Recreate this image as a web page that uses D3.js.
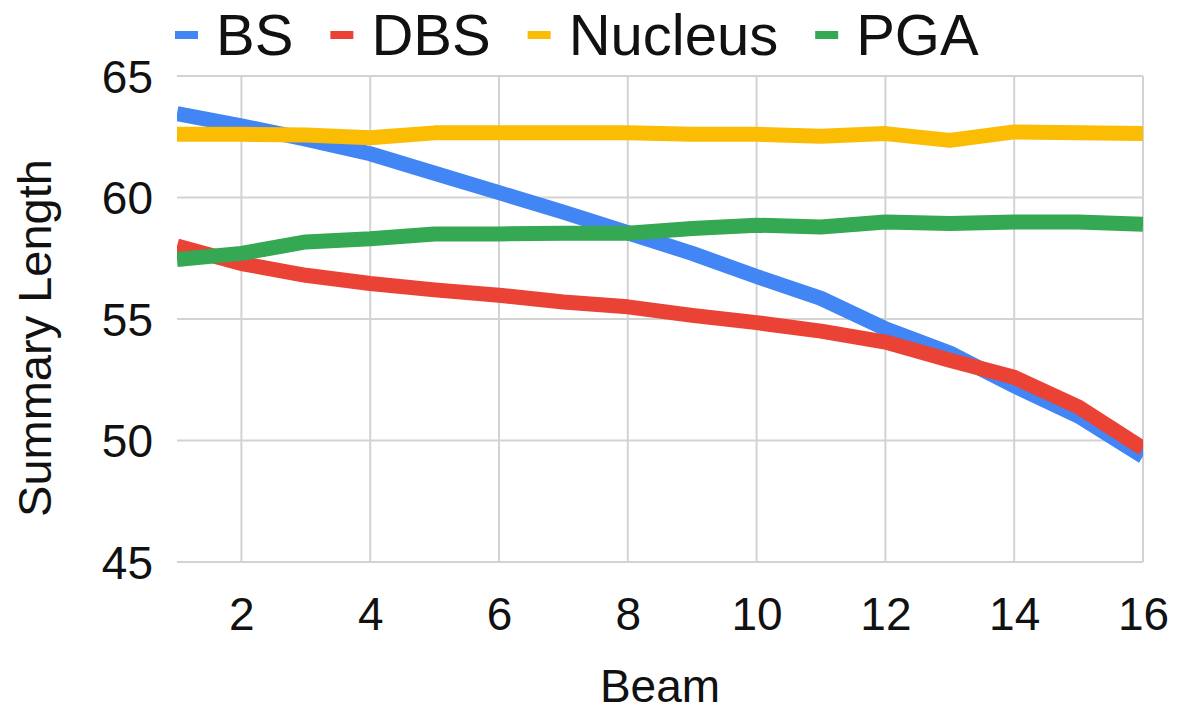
<!DOCTYPE html>
<html>
<head>
<meta charset="utf-8">
<script src="https://cdn.jsdelivr.net/npm/d3@7/dist/d3.min.js"></script>
<style>
  html, body { margin: 0; padding: 0; background: #fff; }
  svg { display: block; font-family: "Liberation Sans", Arial, Helvetica, sans-serif; }
</style>
</head>
<body>
<svg id="chart" width="1186" height="713"></svg>
<script>
const beams = [1,2,3,4,5,6,7,8,9,10,11,12,13,14,15,16];
const seriesNames = ["BS", "DBS", "Nucleus", "PGA"];
const bsValues      = [63.45, 62.95, 62.4, 61.8, 61.0, 60.2, 59.4, 58.55, 57.7, 56.75, 55.85, 54.6, 53.6, 52.25, 51.0, 49.35];
const dbsValues     = [58.0, 57.28, 56.8, 56.46, 56.2, 55.98, 55.7, 55.5, 55.15, 54.85, 54.5, 54.05, 53.3, 52.6, 51.38, 49.67];
const nucleusValues = [62.6, 62.6, 62.57, 62.46, 62.66, 62.66, 62.66, 62.66, 62.6, 62.6, 62.52, 62.63, 62.35, 62.7, 62.66, 62.63];
const pgaValues     = [57.45, 57.7, 58.17, 58.3, 58.5, 58.5, 58.53, 58.53, 58.72, 58.86, 58.79, 58.99, 58.93, 58.99, 58.99, 58.9];
const xTicks = [2,4,6,8,10,12,14,16];
const yTicks = [45,50,55,60,65];
const colors = ["#4285F4", "#EA4335", "#FBBC04", "#34A853"];

(function () {
const allSeries = [bsValues, dbsValues, nucleusValues, pgaValues];

const svg = d3.select("#chart");
const pLeft = 177, pRight = 1143, pTop = 76, pBottom = 562;

const x = d3.scaleLinear().domain([1, 16]).range([pLeft, pRight]);
const y = d3.scaleLinear().domain([45, 65]).range([pBottom, pTop]);

// Horizontal gridlines
svg.append("g").attr("class", "ygrid")
  .selectAll("line").data(yTicks).join("line")
  .attr("x1", pLeft).attr("x2", pRight)
  .attr("y1", d => y(d)).attr("y2", d => y(d))
  .attr("stroke", "#d3d3d3").attr("stroke-width", 2);

// Vertical gridlines
svg.append("g").attr("class", "xgrid")
  .selectAll("line").data(xTicks).join("line")
  .attr("x1", d => x(d)).attr("x2", d => x(d))
  .attr("y1", pTop).attr("y2", pBottom)
  .attr("stroke", "#d3d3d3").attr("stroke-width", 2);

// Y axis labels
const yAxis = d3.axisLeft(y).tickValues(yTicks).tickSize(0).tickPadding(0);
const yg = svg.append("g").attr("transform", `translate(${pLeft - 24},0)`).call(yAxis);
yg.select(".domain").remove();
yg.selectAll("text").attr("font-size", 46).attr("fill", "#111").attr("dy", "0.35em")
  .attr("font-family", '"Liberation Sans", Arial, sans-serif');

// X axis labels
const xAxis = d3.axisBottom(x).tickValues(xTicks).tickSize(0).tickPadding(0);
const xg = svg.append("g").attr("transform", `translate(0,${pBottom})`).call(xAxis);
xg.select(".domain").remove();
xg.selectAll("text").attr("font-size", 46).attr("fill", "#111").attr("dy", null).attr("y", 68)
  .attr("font-family", '"Liberation Sans", Arial, sans-serif');

// Clip
svg.append("clipPath").attr("id", "plotclip")
  .append("rect").attr("x", pLeft).attr("y", 0).attr("width", pRight - pLeft).attr("height", 713);

const line = d3.line().x((d, i) => x(beams[i])).y(d => y(d));

svg.append("g").attr("clip-path", "url(#plotclip)")
  .selectAll("path").data(allSeries).join("path")
  .attr("d", d => line(d))
  .attr("fill", "none")
  .attr("stroke", (d, i) => colors[i])
  .attr("stroke-width", 15)
  .attr("stroke-linejoin", "round")
  .attr("stroke-linecap", "butt");

// Axis titles
svg.append("text").attr("x", (pLeft + pRight) / 2).attr("y", 702)
  .attr("text-anchor", "middle").attr("font-size", 46).attr("fill", "#111")
  .text("Beam");
svg.append("text")
  .attr("transform", "translate(51,338) rotate(-90)")
  .attr("text-anchor", "middle").attr("font-size", 47).attr("fill", "#111")
  .text("Summary Length");

// Legend
const lg = svg.append("g").attr("class", "legend");
let cx = 175;
seriesNames.forEach((name, i) => {
  lg.append("rect").attr("x", cx).attr("y", 31).attr("width", 23).attr("height", 8)
    .attr("fill", colors[i]);
  const t = lg.append("text").attr("x", cx + 41).attr("y", 55)
    .attr("font-size", 58).attr("fill", "#111").text(name);
  const w = t.node().getComputedTextLength();
  cx = cx + 41 + w + 37;
});
})();
</script>
</body>
</html>
